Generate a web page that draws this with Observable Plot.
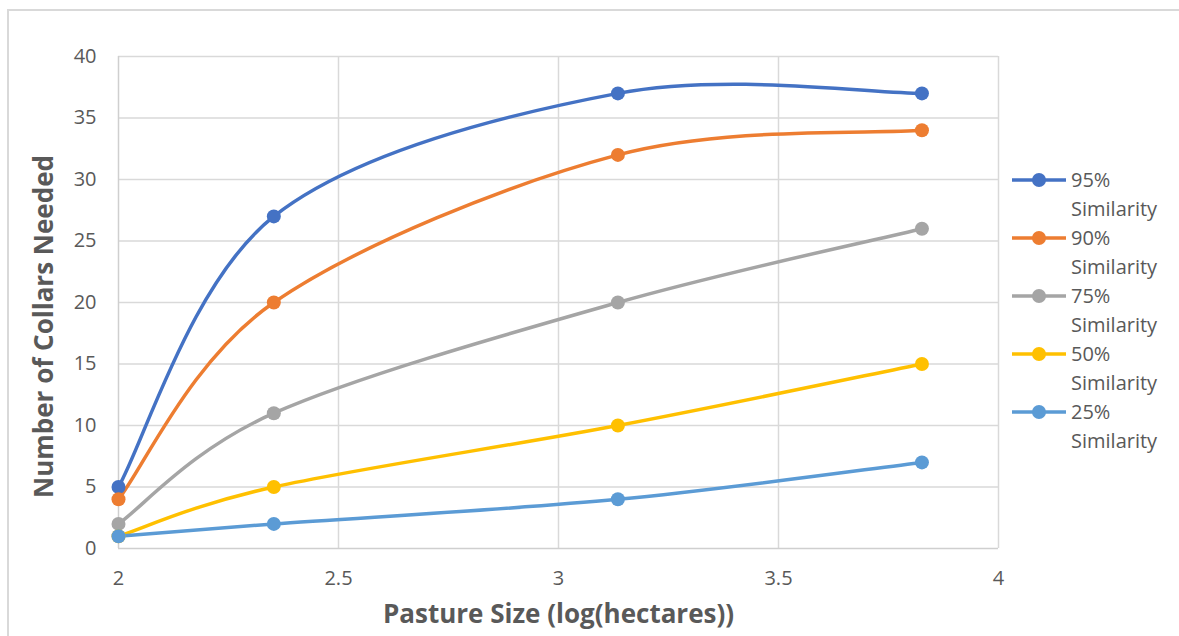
<!DOCTYPE html>
<html>
<head>
<meta charset="utf-8">
<script src="https://cdn.jsdelivr.net/npm/d3@7"></script>
<script src="https://cdn.jsdelivr.net/npm/@observablehq/plot@0.6"></script>
<style>
  html, body { margin: 0; padding: 0; background: #fff; overflow: hidden; }
  #wrap { position: relative; width: 1179px; height: 636px; font-family: "Open Sans", sans-serif; }
  #frame { position: absolute; left: 7px; top: 9px; width: 1300px; height: 700px; border-top: 2px solid #d9d9d9; border-left: 2px solid #d9d9d9; box-sizing: border-box; }
  #chart { position: absolute; left: 0; top: 0; }
  #legend { position: absolute; left: 1010px; top: 165px; }
  .item { position: relative; height: 58px; }
  .item svg { position: absolute; left: 0; top: 5px; }
  .item .lbl { position: absolute; left: 61px; top: 0; font-size: 20px; line-height: 29px; color: #595959; }
</style>
</head>
<body>
<div id="wrap">
  <div id="frame"></div>
  <div id="chart"></div>
  <div id="legend"></div>
</div>
<script>
const seriesNames = ["95% Similarity", "90% Similarity", "75% Similarity", "50% Similarity", "25% Similarity"];
const colors = ["#4472C4", "#ED7D31", "#A5A5A5", "#FFC000", "#5B9BD5"];
const pastureSize = [2, 2.353, 3.135, 3.826];
const s95 = [5, 27, 37, 37];
const s90 = [4, 20, 32, 34];
const s75 = [2, 11, 20, 26];
const s50 = [1, 5, 10, 15];
const s25 = [1, 2, 4, 7];
const xTicks = [2, 2.5, 3, 3.5, 4];
const yTicks = [0, 5, 10, 15, 20, 25, 30, 35, 40];

const allSeries = [s95, s90, s75, s50, s25];
const rows = [];
allSeries.forEach((vals, si) => {
  vals.forEach((v, i) => rows.push({series: seriesNames[si], x: pastureSize[i], y: v}));
});

// Spreadsheet-style smoothed line: Catmull-Rom Bezier with end points duplicated
function excelSmooth(context) {
  let pts = [];
  return {
    areaStart() {}, areaEnd() {},
    lineStart() { pts = []; },
    point(x, y) { pts.push([+x, +y]); },
    lineEnd() {
      const n = pts.length;
      if (!n) return;
      context.moveTo(pts[0][0], pts[0][1]);
      if (n === 1) return;
      for (let i = 0; i < n - 1; i++) {
        const p0 = pts[Math.max(i - 1, 0)], p1 = pts[i], p2 = pts[i + 1], p3 = pts[Math.min(i + 2, n - 1)];
        context.bezierCurveTo(
          p1[0] + (p2[0] - p0[0]) / 6, p1[1] + (p2[1] - p0[1]) / 6,
          p2[0] - (p3[0] - p1[0]) / 6, p2[1] - (p3[1] - p1[1]) / 6,
          p2[0], p2[1]);
      }
    }
  };
}

const font = "'Open Sans', sans-serif";
const chart = Plot.plot({
  width: 1179,
  height: 636,
  marginLeft: 118,
  marginRight: 181,
  marginTop: 56,
  marginBottom: 88,
  style: {fontFamily: font, fontSize: "20px", color: "#595959", background: "transparent"},
  x: {domain: [2, 4], label: null},
  y: {domain: [0, 40], label: null},
  color: {domain: seriesNames, range: colors},
  marks: [
    Plot.gridX(xTicks.slice(1), {stroke: "#d9d9d9", strokeOpacity: 1, strokeWidth: 1.5}),
    Plot.gridY(yTicks.slice(1), {stroke: "#d9d9d9", strokeOpacity: 1, strokeWidth: 1.5}),
    Plot.ruleX([2], {stroke: "#cfcfcf", strokeWidth: 1.5}),
    Plot.ruleY([0], {stroke: "#cfcfcf", strokeWidth: 1.5}),
    Plot.axisX({ticks: xTicks, tickFormat: d => String(d), tickSize: 0, tickPadding: 22, label: null, fill: "#595959", fontSize: 20}),
    Plot.axisY({ticks: yTicks, tickFormat: d => String(d), tickSize: 0, tickPadding: 22, label: null, fill: "#595959", fontSize: 20}),
    ...seriesNames.map(name => Plot.line(rows.filter(r => r.series === name), {x: "x", y: "y", stroke: "series", strokeWidth: 3.5, curve: excelSmooth})),
    ...seriesNames.map(name => Plot.dot(rows.filter(r => r.series === name), {x: "x", y: "y", fill: "series", r: 7})),
    Plot.text(["Pasture Size (log(hectares))"], {frameAnchor: "bottom", lineAnchor: "middle", dy: 66, text: d => d, fontSize: 26, fontWeight: "bold", fill: "#595959"}),
    Plot.text(["Number of Collars Needed"], {frameAnchor: "left", textAnchor: "middle", lineAnchor: "middle", dx: -74, dy: 24, rotate: -90, text: d => d, fontSize: 26, fontWeight: "bold", fill: "#595959"})
  ]
});
document.getElementById("chart").appendChild(chart);

const legend = document.getElementById("legend");
seriesNames.forEach((name, i) => {
  const item = document.createElement("div");
  item.className = "item";
  item.innerHTML = `<svg width="60" height="20"><line x1="2" x2="56" y1="10" y2="10" stroke="${colors[i]}" stroke-width="3.5"/><circle cx="29" cy="10" r="7" fill="${colors[i]}"/></svg>` +
    `<div class="lbl">${name.replace(" ", "<br>")}</div>`;
  legend.appendChild(item);
});
</script>
</body>
</html>
